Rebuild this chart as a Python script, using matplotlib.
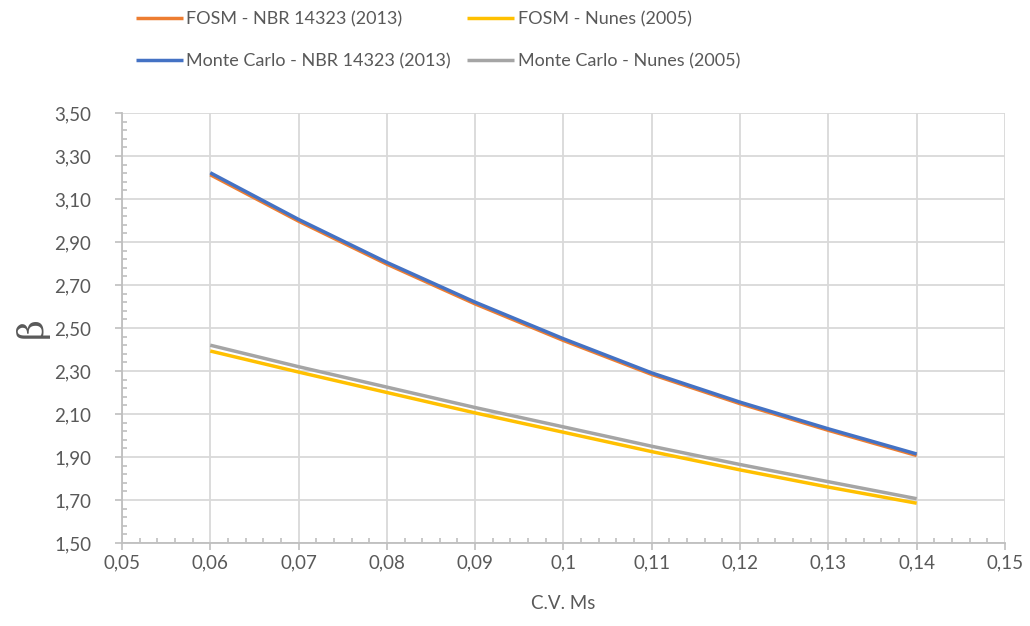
import matplotlib
matplotlib.use('Agg')
import matplotlib.pyplot as plt
from matplotlib.ticker import MultipleLocator, FuncFormatter

# dados
cv_ms = [0.06, 0.07, 0.08, 0.09, 0.10, 0.11, 0.12, 0.13, 0.14]
fosm_nbr = [3.213, 2.997, 2.797, 2.612, 2.442, 2.284, 2.148, 2.024, 1.907]
fosm_nunes = [2.393, 2.295, 2.200, 2.105, 2.015, 1.925, 1.840, 1.760, 1.685]
mc_nbr = [3.222, 3.005, 2.805, 2.620, 2.450, 2.291, 2.155, 2.031, 1.914]
mc_nunes = [2.420, 2.320, 2.225, 2.130, 2.040, 1.950, 1.865, 1.785, 1.706]

labels = ['FOSM - NBR 14323 (2013)', 'FOSM - Nunes (2005)',
          'Monte Carlo - NBR 14323 (2013)', 'Monte Carlo - Nunes (2005)']
colors = ['#ED7D31', '#FFC000', '#4472C4', '#A5A5A5']

plt.rcParams['font.family'] = ['Lato', 'DejaVu Sans']
txt = '#595959'
grid_c = '#D9D9D9'
axis_c = '#BFBFBF'

fig = plt.figure(figsize=(10.3, 6.26), dpi=100)
ax = fig.add_axes([0.1184, 0.1326, 0.8573, 0.6869])

lines = []
for y, c, lab in zip([fosm_nbr, fosm_nunes, mc_nbr, mc_nunes], colors, labels):
    l, = ax.plot(cv_ms, y, color=c, lw=2.5, label=lab, solid_capstyle='butt')
    lines.append(l)

ax.set_xlim(0.05, 0.15)
ax.set_ylim(1.5, 3.5)
ax.xaxis.set_major_locator(MultipleLocator(0.01))
ax.xaxis.set_minor_locator(MultipleLocator(0.002))
ax.yaxis.set_major_locator(MultipleLocator(0.2, offset=0.1))
ax.yaxis.set_minor_locator(MultipleLocator(0.04, offset=0.02))
ax.xaxis.set_major_formatter(FuncFormatter(lambda v, p: f'{round(v, 3):g}'.replace('.', ',')))
ax.yaxis.set_major_formatter(FuncFormatter(lambda v, p: f'{v:.2f}'.replace('.', ',')))

ax.grid(True, which='major', color=grid_c, lw=1.3)
ax.set_axisbelow(True)
for s in ['top', 'right']:
    ax.spines[s].set_visible(False)
for s in ['left', 'bottom']:
    ax.spines[s].set_color(axis_c)
    ax.spines[s].set_linewidth(1.3)
ax.tick_params(which='major', direction='out', length=5, color=axis_c, width=1.2,
               labelsize=13.5, labelcolor=txt)
ax.tick_params(axis='x', which='major', pad=3)
ax.tick_params(axis='y', which='major', pad=17)
ax.tick_params(which='minor', direction='in', length=3.5, color=axis_c, width=1.2)

ax.set_xlabel('C.V. Ms', fontsize=13.5, color=txt, labelpad=17)
ax.set_ylabel('β', fontsize=26, color=txt, family='DejaVu Serif', labelpad=4,
              rotation=90)

handles = [lines[0], lines[2], lines[1], lines[3]]
fig.legend(handles, [h.get_label() for h in handles], ncol=2, frameon=False,
           loc='upper left', bbox_to_anchor=(0.116, 1.008), fontsize=13,
           labelcolor=txt, handlelength=2.6, handletextpad=0.2,
           columnspacing=0.9, labelspacing=1.45)

fig.savefig('out.png', dpi=100)
